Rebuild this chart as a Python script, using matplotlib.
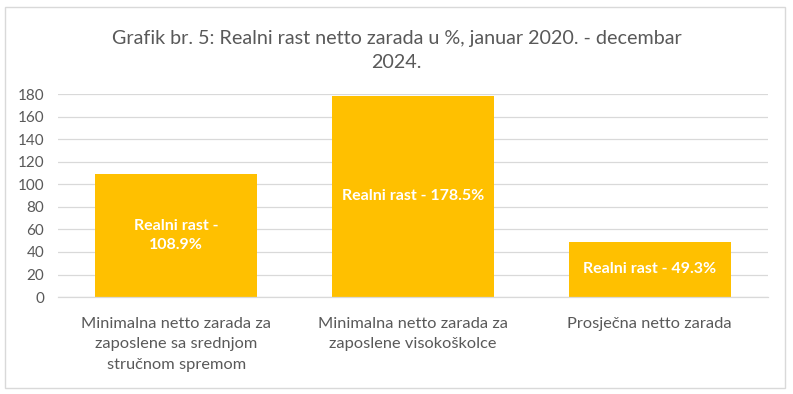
import matplotlib.pyplot as plt
from matplotlib.patches import Rectangle

# data
categories = [
    "Minimalna netto zarada za\nzaposlene sa srednjom\nstručnom spremom",
    "Minimalna netto zarada za\nzaposlene visokoškolce",
    "Prosječna netto zarada",
]
values = [108.9, 178.5, 49.3]
bar_labels = ["Realni rast -\n108.9%", "Realni rast - 178.5%", "Realni rast - 49.3%"]
yticks = [0, 20, 40, 60, 80, 100, 120, 140, 160, 180]

title = "Grafik br. 5: Realni rast netto zarada u %, januar 2020. - decembar\n2024."

plt.rcParams["font.family"] = ["Lato", "DejaVu Sans"]
text_color = "#595959"
grid_color = "#D9D9D9"
bar_color = "#FFC000"

fig = plt.figure(figsize=(7.93, 3.94), dpi=100)
ax = fig.add_axes([0.0731, 0.246, 0.8954, 0.515])

x = range(len(categories))
bars = ax.bar(x, values, width=0.685, color=bar_color, zorder=2)
ax.bar_label(bars, labels=bar_labels, label_type="center", color="white",
             fontsize=11.5, fontweight="bold", linespacing=1.5)

ax.set_xlim(-0.5, len(categories) - 0.5)
ax.set_ylim(0, 180)
ax.set_yticks(yticks)
ax.set_xticks(list(x))
ax.set_xticklabels(categories, fontsize=11.8, color=text_color, linespacing=1.6)
ax.tick_params(axis="y", labelsize=11, labelcolor=text_color, length=0, pad=10)
ax.tick_params(axis="x", length=0, pad=14)
ax.grid(axis="y", color=grid_color, linewidth=0.9, zorder=0)
for side in ["top", "right", "left"]:
    ax.spines[side].set_visible(False)
ax.spines["bottom"].set_color(grid_color)
ax.spines["bottom"].set_linewidth(0.9)

fig.text(0.5, 0.872, title, ha="center", va="center", fontsize=14.2,
         color=text_color, linespacing=1.5)

# thin border around the whole chart
fig.patches.append(Rectangle((0.0063, 0.0152), 0.9836, 0.967, transform=fig.transFigure,
                             fill=False, edgecolor=grid_color, linewidth=1))

fig.savefig("out.png", dpi=100)
